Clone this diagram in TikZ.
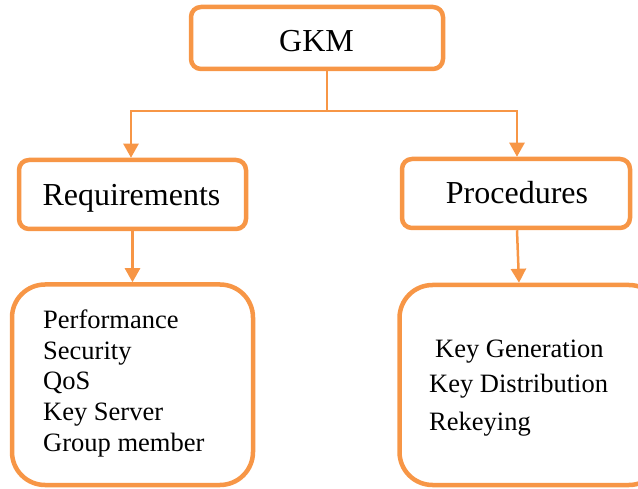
\documentclass[tikz,border=0pt]{standalone}
\usepackage{fontspec}
\setmainfont{Liberation Serif}
\usetikzlibrary{arrows.meta,calc}
\definecolor{gkmorange}{RGB}{247,150,70}
\begin{document}
\begin{tikzpicture}[x=1pt,y=-1pt,
  box/.style={draw=gkmorange,line width=4.5pt,rounded corners=10pt,fill=white,inner sep=0pt},
  bigbox/.style={draw=gkmorange,line width=4.5pt,rounded corners=33pt,fill=white,inner sep=0pt},
  titletext/.style={font=\fontsize{32}{38}\selectfont},
  itemtext/.style={font=\fontsize{26.5}{30}\selectfont,anchor=base west,inner sep=0pt},
  conn/.style={draw=gkmorange,line width=2.5pt},
  arr/.style={conn,-{Triangle[width=15pt,length=14pt]}}]
\useasboundingbox (0,0) rectangle (638,489);
\clip (0,0) rectangle (638,489);
% top box
\node[box,minimum width=252pt,minimum height=62pt] (gkm) at (317,38) {};
\node[titletext,anchor=base,inner sep=0pt] (gkmt) at (316.5,52) {GKM};
% second level
\node[box,minimum width=227pt,minimum height=69pt] (req) at (132.5,194.5) {};
\node[titletext,anchor=base,inner sep=0pt] (reqt) at (131.5,206) {Requirements};
\node[box,minimum width=228pt,minimum height=69pt] (proc) at (516,193.5) {};
\node[titletext,anchor=base,inner sep=0pt] (proct) at (517,204) {Procedures};
% big boxes
\node[bigbox,minimum width=241pt,minimum height=200.5pt] (lbox) at (132.5,384.75) {};
\node[bigbox,minimum width=262.5pt,minimum height=200pt] (rbox) at (530.75,385) {};
% list texts
\node[itemtext] (l1) at (43,329) {Performance};
\node[itemtext] (l2) at (43,359.5) {Security};
\node[itemtext] (l3) at (43,390) {QoS};
\node[itemtext] (l4) at (43,420.5) {Key Server};
\node[itemtext] (l5) at (43,451) {Group member};
\node[itemtext] (r1) at (435,358) {Key Generation};
\node[itemtext] (r2) at (429,392) {Key Distribution};
\node[itemtext] (r3) at (429,430) {Rekeying};
% connectors
\coordinate (j) at (327,111);
\coordinate (jl) at (131,111);
\coordinate (jr) at (517,111);
\draw[conn] (gkm.south -| j) -- (j);
\draw[arr] (j) -- (jl) -- (jl |- req.north);
\draw[arr] (j) -- (jr) -- (jr |- proc.north);
\draw[arr] (req.south) -- (req.south |- lbox.north);
\draw[arr] ([xshift=1pt]proc.south) -- ([xshift=3pt]proc.south |- rbox.north);
\end{tikzpicture}
\end{document}
